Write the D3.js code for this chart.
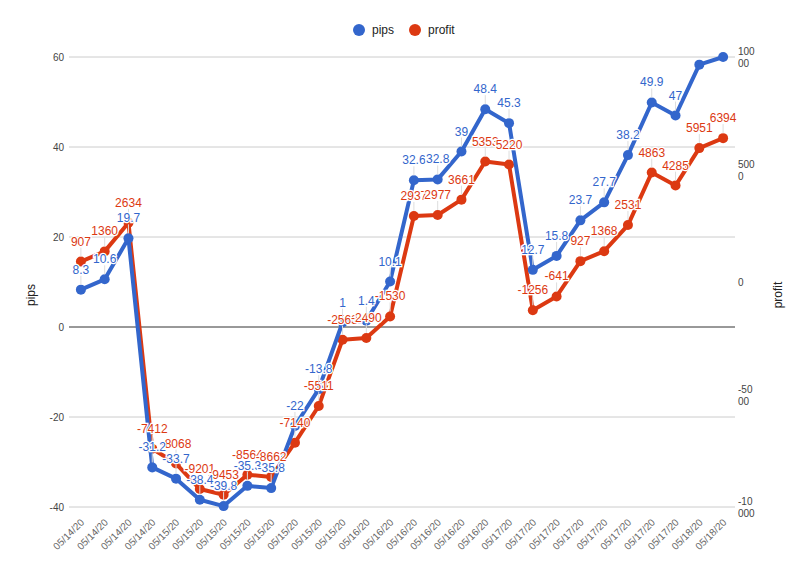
<!DOCTYPE html>
<html><head><meta charset="utf-8">
<script src="https://cdn.jsdelivr.net/npm/d3@7"></script>
<style>body{margin:0;background:#fff}</style></head>
<body><svg id="c" width="800" height="562"></svg>
<script>
const dates = ["05/14/20","05/14/20","05/14/20","05/14/20",
"05/15/20","05/15/20","05/15/20","05/15/20","05/15/20","05/15/20","05/15/20","05/15/20",
"05/16/20","05/16/20","05/16/20","05/16/20","05/16/20","05/16/20",
"05/17/20","05/17/20","05/17/20","05/17/20","05/17/20","05/17/20","05/17/20","05/17/20",
"05/18/20","05/18/20"];
const pips = [8.3,10.6,19.7,-31.2,-33.7,-38.4,-39.8,-35.3,-35.8,-22,-13.8,1,1.4,10.1,32.6,32.8,39,48.4,45.3,12.7,15.8,23.7,27.7,38.2,49.9,47,58.3,60];
const profit = [907,1360,2634,-7412,-8068,-9201,-9453,-8564,-8662,-7140,-5511,-2563,-2490,-1530,2937,2977,3661,5353,5220,-1256,-641,927,1368,2531,4863,4285,5951,6394];
const leftTicks = [-40,-20,0,20,40,60];
const rightTicks = [-10000,-5000,0,5000,10000];
const rightTickText = [["-10","000"],["-50","00"],["0"],["500","0"],["100","00"]];

const svg = d3.select("#c");
const L=69,R=735,T=57,B=507;
const idx = d3.range(dates.length);
const x = d3.scalePoint().domain(idx).range([L,R]).padding(0.5);
const yL = d3.scaleLinear().domain([-40,60]).range([B,T]);
const yR = d3.scaleLinear().domain([-10000,10000]).range([B,T]);
const font="Arial, 'Liberation Sans', sans-serif";
const blue="#3366cc", red="#dc3912";

svg.append("g").selectAll("line").data(leftTicks).join("line")
 .attr("x1",L).attr("x2",R).attr("y1",d=>yL(d)).attr("y2",d=>yL(d))
 .attr("stroke",d=>d===0?"#333":"#ccc").attr("stroke-width",1);
svg.append("g").selectAll("text").data(leftTicks).join("text")
 .attr("x",L-5).attr("y",d=>yL(d)+4).attr("text-anchor","end")
 .attr("font-family",font).attr("font-size",10).attr("fill","#444").text(d=>d);
const rt = svg.append("g").selectAll("text").data(rightTicks).join("text")
 .attr("x",R+3).attr("font-family",font).attr("font-size",10).attr("fill","#444")
 .attr("y",(d,i)=>yR(d)+4-(rightTickText[i].length-1)*6);
rt.each(function(d,i){
  d3.select(this).selectAll("tspan").data(rightTickText[i]).join("tspan")
   .attr("x",R+3).attr("dy",(t,j)=>j?12:0).text(t=>t);
});
svg.append("text").attr("transform","translate(35,295) rotate(-90)").attr("text-anchor","middle")
 .attr("font-family",font).attr("font-size",12).attr("fill","#222").text("pips");
svg.append("text").attr("transform","translate(782,295) rotate(-90)").attr("text-anchor","middle")
 .attr("font-family",font).attr("font-size",12).attr("fill","#222").text("profit");
svg.append("g").selectAll("text").data(idx).join("text")
 .attr("transform",d=>`translate(${x(d)+4},${B+16}) rotate(-45)`).attr("text-anchor","end")
 .attr("font-family",font).attr("font-size",10).attr("fill","#666").text(d=>dates[d]);

function series(vals,y,color){
  const g=svg.append("g");
  g.append("path").datum(idx).attr("fill","none").attr("stroke",color).attr("stroke-width",4)
   .attr("stroke-linejoin","round").attr("d",d3.line().x(i=>x(i)).y(i=>y(vals[i])));
  g.selectAll("circle").data(idx).join("circle").attr("cx",i=>x(i)).attr("cy",i=>y(vals[i])).attr("r",5).attr("fill",color);
}
function labels(vals,y,color){
  const vis = idx.filter(i=>y(vals[i])-17>T);
  const g=svg.append("g");
  g.selectAll("line").data(vis).join("line").attr("x1",i=>x(i)).attr("x2",i=>x(i))
   .attr("y1",i=>y(vals[i])-5).attr("y2",i=>y(vals[i])-14).attr("stroke","#ddd").attr("stroke-width",1);
  g.selectAll("text").data(vis).join("text")
   .attr("x",i=>x(i)).attr("y",i=>y(vals[i])-16).attr("text-anchor","middle")
   .attr("font-family",font).attr("font-size",12).attr("fill",color)
   .attr("stroke","#fff").attr("stroke-width",2.5).attr("paint-order","stroke").text(i=>vals[i]);
}
series(profit,yR,red);
series(pips,yL,blue);
labels(profit,yR,red);
labels(pips,yL,blue);

const lg=svg.append("g").attr("font-family",font).attr("font-size",12).attr("fill","#222");
lg.append("circle").attr("cx",359).attr("cy",30).attr("r",6).attr("fill",blue);
lg.append("text").attr("x",372).attr("y",34).text("pips");
lg.append("circle").attr("cx",415).attr("cy",30).attr("r",6).attr("fill",red);
lg.append("text").attr("x",428).attr("y",34).text("profit");
</script></body></html>
